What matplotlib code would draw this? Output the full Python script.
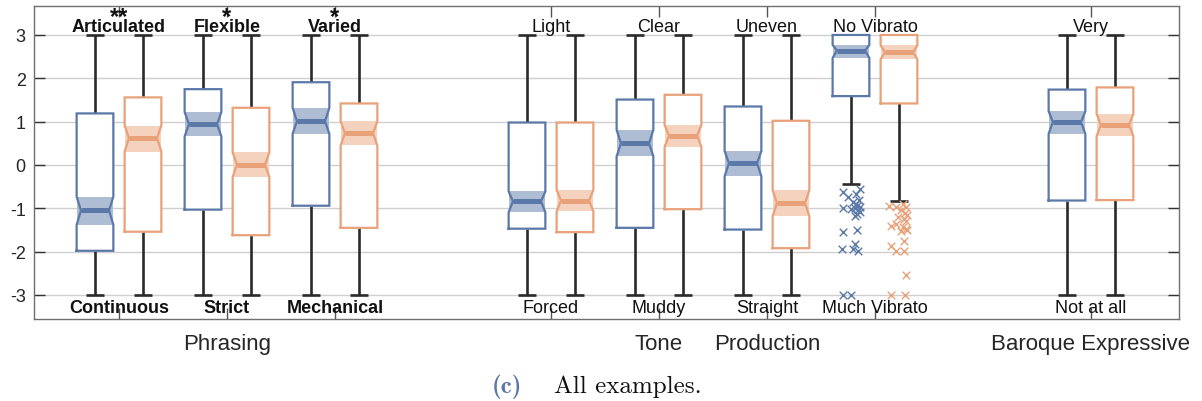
import matplotlib
matplotlib.use("Agg")
import matplotlib.pyplot as plt
import numpy as np

# ---------------- data ----------------
group_pos = [1, 2, 3, 5, 6, 7, 8, 10]
top_labels = ["Articulated", "Flexible", "Varied", "Light", "Clear", "Uneven", "No Vibrato", "Very"]
bottom_labels = ["Continuous", "Strict", "Mechanical", "Forced", "Muddy", "Straight", "Much Vibrato", "Not at all"]
label_bold = [True, True, True, False, False, False, False, False]
significance = ["**", "*", "*", "", "", "", "", ""]
category_labels = ["Phrasing", "Tone", "Production", "Baroque Expressive"]
category_pos = [2, 6, 7, 10]
ytick_values = [-3, -2, -1, 0, 1, 2, 3]
ytick_labels = ["-3", "-2", "-1", "0", "1", "2", "3"]

# series A (blue)
a_q3 = [1.19, 1.75, 1.91, 0.98, 1.51, 1.35, 3.00, 1.74]
a_q1 = [-1.98, -1.03, -0.94, -1.47, -1.45, -1.49, 1.59, -0.82]
a_med = [-1.05, 0.94, 1.01, -0.84, 0.50, 0.04, 2.64, 0.99]
a_cihi = [-0.73, 1.22, 1.32, -0.61, 0.81, 0.32, 2.77, 1.24]
a_cilo = [-1.38, 0.66, 0.72, -1.09, 0.20, -0.26, 2.47, 0.72]
a_whihi = [3, 3, 3, 3, 3, 3, 3, 3]
a_whilo = [-3, -3, -3, -3, -3, -3, -0.45, -3]
a_flier_vals = [-0.55, -0.63, -0.67, -0.75, -0.80, -0.85, -0.90, -0.94, -0.97, -1.00, -1.00,
                -1.02, -1.05, -1.09, -1.12, -1.17, -1.50, -1.54, -1.82, -1.95, -1.95, -1.98,
                -3.00, -3.00]
a_flier_jit_px = [8.7, -8, 5, -3, 8, 2, 5, 6, 9, -8, 4, 0, 7, 8.7, 6, 3.7, 6, -8, 3.7, -9, 2, 7, -8, 0]

# series B (orange)
b_q3 = [1.56, 1.32, 1.42, 0.98, 1.62, 1.02, 3.00, 1.79]
b_q1 = [-1.54, -1.62, -1.45, -1.55, -1.02, -1.92, 1.42, -0.81]
b_med = [0.62, 0.01, 0.73, -0.82, 0.68, -0.88, 2.60, 0.92]
b_cihi = [0.91, 0.29, 1.01, -0.58, 0.92, -0.58, 2.76, 1.18]
b_cilo = [0.31, -0.28, 0.45, -1.07, 0.42, -1.18, 2.44, 0.67]
b_whihi = [3, 3, 3, 3, 3, 3, 3, 3]
b_whilo = [-3, -3, -3, -3, -3, -3, -0.84, -3]
b_flier_vals = [-0.90, -0.94, -0.98, -0.98, -1.05, -1.10, -1.15, -1.21, -1.25, -1.30, -1.36,
                -1.40, -1.44, -1.48, -1.50, -1.52, -1.75, -1.86, -1.98, -1.98, -2.53, -3.00, -3.00]
b_flier_jit_px = [4, -9.7, -3, 7, 2, 6, 8, -1.3, 5.3, 7, -3, -8, 3.7, 7, 8, 2, 5.3, -8, -3, 5.3, 7, -8, 6.3]
flier_group = 6  # index of group with outliers

# ---------------- style ----------------
BLUE = "#5a78a8"
BLUE_SH = "#aebdd4"
ORANGE = "#e8a179"
ORANGE_SH = "#f4d2be"
WHISK = "#2a2a2a"
UNIT_PX = 108.0
OFFSET = 24 / UNIT_PX
HALF_W = 0.17
NOTCH_W = 0.13
CAP_W = 0.08

fig = plt.figure(figsize=(12.02, 4.02), dpi=100)
ax = fig.add_axes([34 / 1202, 1 - 320 / 402, (1179 - 34) / 1202, (320 - 7) / 402])
ax.set_xlim(0.213, 10.815)
ax.set_ylim(-3.554, 3.669)

SANS = ["Liberation Sans", "DejaVu Sans"]


def draw_box(x, q1, q3, med, cilo, cihi, wlo, whi, color, shade):
    # whiskers
    ax.plot([x, x], [q3, whi], color=WHISK, lw=1.9, zorder=2, solid_capstyle="butt")
    ax.plot([x, x], [wlo, q1], color=WHISK, lw=1.9, zorder=2, solid_capstyle="butt")
    ax.plot([x - CAP_W, x + CAP_W], [whi, whi], color=WHISK, lw=1.9, zorder=2, solid_capstyle="butt")
    ax.plot([x - CAP_W, x + CAP_W], [wlo, wlo], color=WHISK, lw=1.9, zorder=2, solid_capstyle="butt")
    # outline polygon
    xs = [x - HALF_W, x - HALF_W, x - NOTCH_W, x - HALF_W, x - HALF_W,
          x + HALF_W, x + HALF_W, x + NOTCH_W, x + HALF_W, x + HALF_W, x - HALF_W]
    ys = [q1, cilo, med, cihi, q3, q3, cihi, med, cilo, q1, q1]
    ax.fill(xs, ys, color="white", zorder=3, lw=0)
    ax.fill([x - HALF_W, x + HALF_W, x + HALF_W, x - HALF_W],
            [cilo, cilo, cihi, cihi], color=shade, zorder=4, lw=0)
    ax.plot(xs, ys, color=color, lw=1.6, zorder=5, solid_joinstyle="miter")
    ax.plot([x - NOTCH_W, x + NOTCH_W], [med, med], color=color, lw=3.6, zorder=6,
            solid_capstyle="butt")


for i, p in enumerate(group_pos):
    draw_box(p - OFFSET, a_q1[i], a_q3[i], a_med[i], a_cilo[i], a_cihi[i],
             a_whilo[i], a_whihi[i], BLUE, BLUE_SH)
    draw_box(p + OFFSET, b_q1[i], b_q3[i], b_med[i], b_cilo[i], b_cihi[i],
             b_whilo[i], b_whihi[i], ORANGE, ORANGE_SH)

# outliers
fp = group_pos[flier_group]
ax.scatter(fp - OFFSET + np.array(a_flier_jit_px) / UNIT_PX, a_flier_vals, marker="x",
           s=30, color=BLUE, linewidths=1.0, zorder=7)
ax.scatter(fp + OFFSET + np.array(b_flier_jit_px) / UNIT_PX, b_flier_vals, marker="x",
           s=30, color=ORANGE, linewidths=1.0, zorder=7)

# labels inside axes
for i, p in enumerate(group_pos):
    fw = "bold" if label_bold[i] else "normal"
    ax.text(p, 3.085, top_labels[i], ha="center", va="baseline", fontsize=13,
            fontweight=fw, family=SANS, color="#111111", zorder=8)
    ax.text(p, -3.40, bottom_labels[i], ha="center", va="baseline", fontsize=13,
            fontweight=fw, family=SANS, color="#111111", zorder=8)
    if significance[i]:
        ax.text(p, 3.27, significance[i], ha="center", va="baseline", fontsize=17,
                fontweight="bold", family=SANS, color="#111111", zorder=8)

# category labels below axes
for lab, p in zip(category_labels, category_pos):
    ax.text(p, -4.25, lab, ha="center", va="baseline", fontsize=16,
            family=SANS, color="#262626")

# axes styling
ax.set_yticks(ytick_values)
ax.set_yticklabels(ytick_labels, family=SANS, fontsize=13, color="#262626")
ax.set_xticks(group_pos)
ax.set_xticklabels([])
ax.tick_params(axis="y", direction="in", length=8, width=1, color="#333333",
               left=True, right=True, pad=6)
ax.tick_params(axis="x", direction="in", length=8, width=1, color="#555555",
               bottom=True, top=True)
ax.yaxis.grid(True, color="#cfcfcf", lw=1.0, zorder=0)
ax.set_axisbelow(True)
for s in ax.spines.values():
    s.set_color("#6f6f6f")
    s.set_linewidth(1.0)

# caption
fig.text(507 / 1202, 1 - 393 / 402, "(c)", ha="center", va="baseline", fontsize=18,
         family=["cmb10", "DejaVu Serif"], color="#5b77a5")
fig.text(628 / 1202, 1 - 393 / 402, "All examples.", ha="center", va="baseline", fontsize=18,
         family=["cmr10", "DejaVu Serif"], color="#111111")

fig.savefig("out.png", dpi=100)
